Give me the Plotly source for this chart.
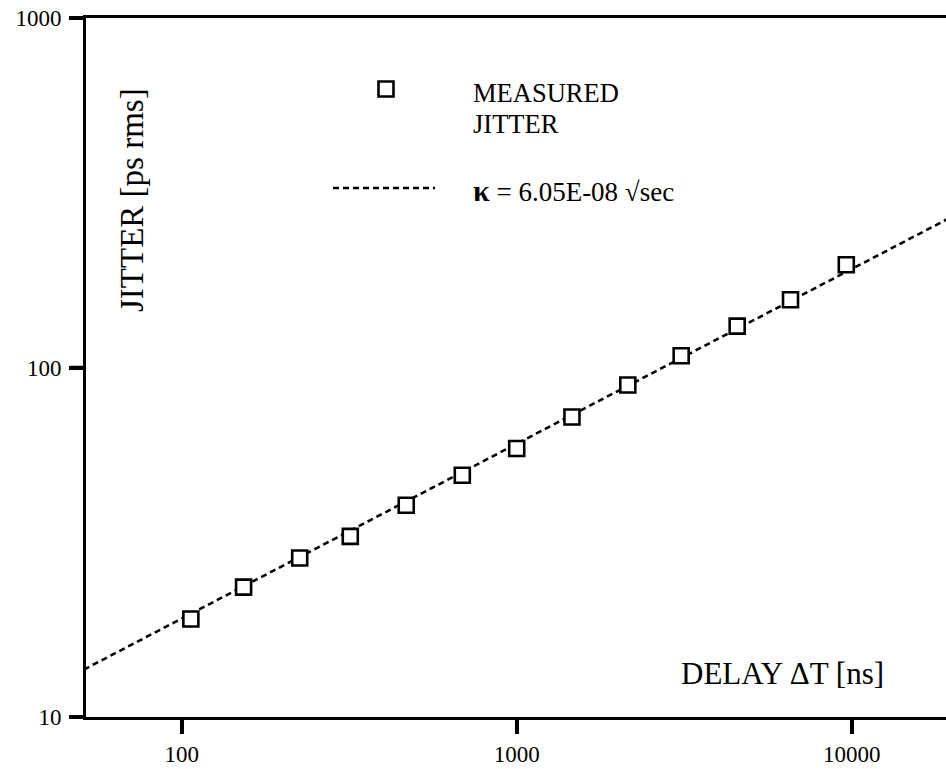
import math
import plotly.graph_objects as go

# Measured jitter versus delay
delay_ns = [106.5, 153, 225, 318.6, 468, 688, 1000, 1462, 2146, 3097, 4551, 6567, 9636]
jitter_ps = [19.07, 23.53, 28.52, 32.86, 40.37, 49.17, 58.64, 72.2, 89.1, 108.1, 131.3, 156.3, 196.7]

# Random-walk model: jitter = kappa * sqrt(delay)
KAPPA = 6.05e-08          # sqrt(sec)
fit_delay_ns = [40, 30000]
fit_jitter_ps = [KAPPA * math.sqrt(t * 1e-9) * 1e12 for t in fit_delay_ns]

x_ticks = [100, 1000, 10000]
y_ticks = [10, 100, 1000]

W, H = 946, 769
ML, MR, MT, MB = 86, 0, 18, 52
PW, PH = W - ML - MR, H - MT - MB
FONT = "Liberation Serif"
INK = "#000000"
TICK_LEN, AXIS_W, TICK_W = 14, 3, 3.5


def px(x):
    return (x - ML) / PW


def py(y):
    return (H - MB - y) / PH


fig = go.Figure()
fig.add_trace(go.Scatter(
    x=fit_delay_ns, y=fit_jitter_ps, mode="lines",
    line=dict(color=INK, width=2.6, dash="6px,4px"),
    hoverinfo="skip", showlegend=False,
))
fig.add_trace(go.Scatter(
    x=delay_ns, y=jitter_ps, mode="markers",
    marker=dict(symbol="square", size=15, color="white",
                line=dict(color=INK, width=2.6)),
    showlegend=False,
))

axis_style = dict(
    type="log", automargin=False, tickmode="array",
    showgrid=False, zeroline=False,
    showline=True, linewidth=AXIS_W, linecolor=INK,
    ticks="outside", ticklen=TICK_LEN, tickwidth=TICK_W, tickcolor=INK,
    tickfont=dict(family=FONT, size=23, color=INK),
)
fig.update_xaxes(**axis_style, range=[1.7143, 4.2815], mirror=True,
                 tickvals=x_ticks, ticktext=[str(v) for v in x_ticks])
fig.update_yaxes(**axis_style, range=[1, 3], mirror=False,
                 ticklabelstandoff=3,
                 tickvals=y_ticks, ticktext=[str(v) for v in y_ticks])

annotations = [
    dict(text="JITTER [ps rms]", x=px(132), y=py(200), textangle=-90,
         xanchor="center", yanchor="middle", font=dict(size=33)),
    dict(text="DELAY ΔT [ns]", x=px(782), y=py(673),
         xanchor="center", yanchor="middle", font=dict(size=31)),
    dict(text="MEASURED", x=px(471), y=py(93),
         xanchor="left", yanchor="middle", font=dict(size=26.5)),
    dict(text="JITTER", x=px(471), y=py(123.5),
         xanchor="left", yanchor="middle", font=dict(size=26.5)),
    dict(text="<span style='font-size:30px'><b>κ</b></span> = 6.05E-08 √sec",
         x=px(471), y=py(191),
         xanchor="left", yanchor="middle", font=dict(size=27)),
]
for a in annotations:
    a.update(xref="paper", yref="paper", showarrow=False)
    a["font"].update(family=FONT, color=INK)

shapes = [
    dict(type="rect", xref="paper", yref="paper",
         x0=px(378.5), x1=px(393.5), y0=py(96.5), y1=py(81.5),
         line=dict(color=INK, width=2.6), fillcolor="white"),
    dict(type="line", xref="paper", yref="paper",
         x0=px(333), x1=px(435), y0=py(188), y1=py(188),
         line=dict(color=INK, width=2.6, dash="6px,4px")),
]
# Outside tick marks, sized in pixels below / left of the axis lines
edge = AXIS_W / 2
for v in x_ticks:
    shapes.append(dict(type="line", xref="x", x0=v, x1=v,
                       yref="paper", ysizemode="pixel", yanchor=0,
                       y0=-edge, y1=-(edge + TICK_LEN),
                       line=dict(color=INK, width=TICK_W)))
for v in y_ticks:
    shapes.append(dict(type="line", yref="y", y0=v, y1=v,
                       xref="paper", xsizemode="pixel", xanchor=0,
                       x0=-edge, x1=-(edge + TICK_LEN),
                       line=dict(color=INK, width=TICK_W)))

fig.update_layout(
    template="none",
    width=W, height=H,
    margin=dict(l=ML, r=MR, t=MT, b=MB, pad=0),
    paper_bgcolor="white", plot_bgcolor="white",
    annotations=annotations, shapes=shapes,
    font=dict(family=FONT, color=INK),
)

fig.write_html("out.html")
